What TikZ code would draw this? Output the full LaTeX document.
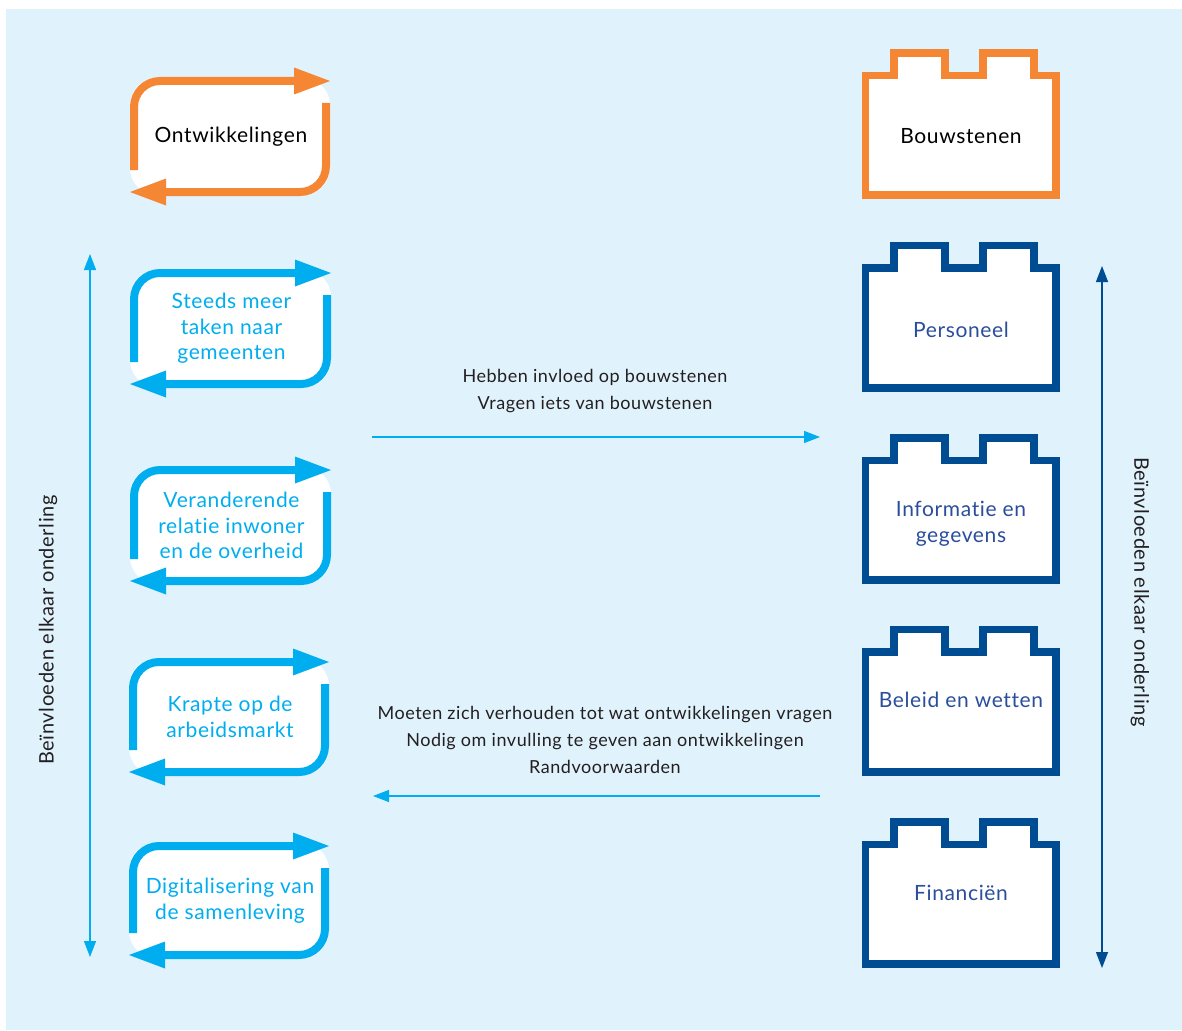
\documentclass[tikz,border=0pt]{standalone}
\usepackage{fontspec}
\setmainfont{Lato}[LetterSpace=3, Ligatures=NoCommon]
\usetikzlibrary{arrows.meta}
\definecolor{bgblue}{HTML}{E0F2FC}
\definecolor{orng}{HTML}{F58634}
\definecolor{cyn}{HTML}{00AEEF}
\definecolor{dblue}{HTML}{004C93}
\definecolor{btext}{HTML}{2A4E9C}
\definecolor{gtext}{HTML}{231F20}
\tikzset{
  looptext/.style={align=center, font=\fontsize{21}{25.5}\selectfont, inner sep=0pt},
  bricktext/.style={align=center, font=\fontsize{21}{26.5}\selectfont, inner sep=0pt, text=btext},
  arrowtext/.style={align=center, font=\fontsize{18}{27}\selectfont, inner sep=0pt, text=gtext},
  sidetext/.style={align=center, font=\fontsize{20}{24}\selectfont, inner sep=0pt, text=gtext},
  thinarrow/.style={line width=1.3pt, -{Triangle[length=16pt,width=12pt]}},
}
% #1 name, #2 colour, #3 left x, #4 right x, #5 top y, #6 bottom y, #7 text, #8 text colour
\newcommand\devloop[8]{%
  \fill[white, rounded corners=27pt] (#3-4,#5-3) rectangle (#4+4,#6+3);
  \draw[#2, line width=8pt, rounded corners=26pt] (#3,#6-22) -- (#3,#5) -- (#4-30,#5);
  \fill[#2] (#4-32,#5-13.5) -- (#4+4,#5) -- (#4-32,#5+13.5) -- cycle;
  \draw[#2, line width=8pt, rounded corners=26pt] (#4,#5+22) -- (#4,#6) -- (#3+30,#6);
  \fill[#2] (#3+32,#6-13.5) -- (#3-4,#6) -- (#3+32,#6+13.5) -- cycle;
  \node[looptext, text=#8] (#1) at ({(#3+#4)/2+1}, {(#5+#6)/2}) {#7};
}
% #1 name, #2 colour, #3 stud top y, #4 text, #5 text colour, #6 text y
\newcommand\brick[6]{%
  \draw[#2, line width=7.7pt, fill=white] (865.5,#3+142.3) -- (865.5,#3+22.5) -- (894,#3+22.5) -- (894,#3) -- (945,#3) -- (945,#3+22.5) -- (983,#3+22.5) -- (983,#3) -- (1034,#3) -- (1034,#3+22.5) -- (1056,#3+22.5) -- (1056,#3+142.3) -- cycle;
  \node[bricktext, text=#5] (#1) at (961,#6) {#4};
}
\begin{document}
\begin{tikzpicture}[x=1pt,y=-1pt]
\useasboundingbox (0,0) rectangle (1182,1030);
\fill[bgblue] (6,9) rectangle (1182,1030);

\devloop{ontw}{orng}{134}{326}{81}{192}{Ontwikkelingen}{black}
\devloop{taken}{cyn}{134}{327}{273}{384}{Steeds meer\\taken naar\\gemeenten}{cyn}
\devloop{relatie}{cyn}{134}{327}{470}{581}{Veranderende\\relatie inwoner\\en de overheid}{cyn}
\devloop{krapte}{cyn}{133}{325}{662}{772}{Krapte op de\\arbeidsmarkt}{cyn}
\devloop{digi}{cyn}{133}{325}{846}{955}{Digitalisering van\\de samenleving}{cyn}

\brick{bouw}{orng}{53}{Bouwstenen}{black}{136}
\brick{pers}{dblue}{245.5}{Personeel}{btext}{330}
\brick{info}{dblue}{438}{Informatie en\\gegevens}{btext}{523.5}
\brick{beleid}{dblue}{629.5}{Beleid en wetten}{btext}{700}
\brick{fin}{dblue}{822}{Financiën}{btext}{892.5}

% vertical arrows
\coordinate (lt) at (90,254);
\coordinate (lb) at (90,957);
\draw[cyn, line width=1.3pt, {Triangle[length=16pt,width=12pt]}-{Triangle[length=16pt,width=12pt]}] (lt) -- (lb);
\node[sidetext, rotate=90] (llabel) at (48,630) {Beïnvloeden elkaar onderling};

\coordinate (rt) at (1102,266);
\coordinate (rb) at (1102,968);
\draw[dblue, line width=1.3pt, {Triangle[length=16pt,width=12pt]}-{Triangle[length=16pt,width=12pt]}] (rt) -- (rb);
\node[sidetext, rotate=-90] (rlabel) at (1140,592) {Beïnvloeden elkaar onderling};

% horizontal arrows
\coordinate (a1s) at (372,437);
\coordinate (a1e) at (820,437);
\draw[cyn, thinarrow] (a1s) -- (a1e);
\node[arrowtext] (t1) at (595,391.5) {Hebben invloed op bouwstenen\\Vragen iets van bouwstenen};

\coordinate (a2s) at (820,796);
\coordinate (a2e) at (373,796);
\draw[cyn, thinarrow] (a2s) -- (a2e);
\node[arrowtext] (t2) at (605,740) {Moeten zich verhouden tot wat ontwikkelingen vragen\\Nodig om invulling te geven aan ontwikkelingen\\Randvoorwaarden};
\end{tikzpicture}
\end{document}
